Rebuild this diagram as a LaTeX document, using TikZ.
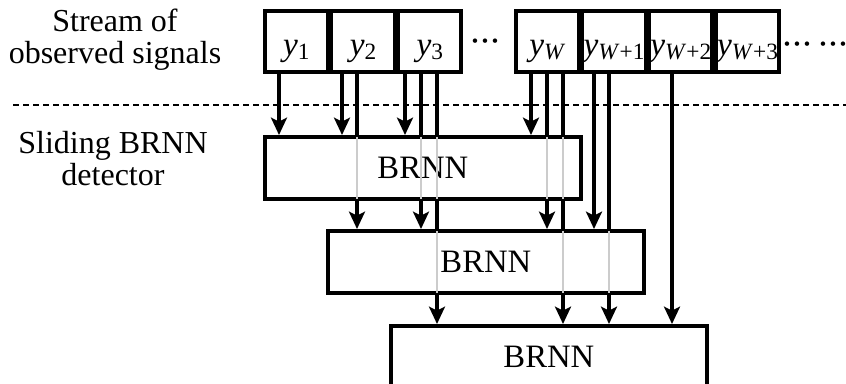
\documentclass[tikz,border=0pt]{standalone}
\usepackage{fontspec}
\setmainfont{Liberation Serif}
\usetikzlibrary{arrows.meta,calc}

% signal symbol y with a subscript
\newcommand\ysig[1]{{\fontsize{25}{25}\selectfont\itshape y}\raisebox{-3pt}{\fontsize{17.5}{17.5}\selectfont #1}}
% a run of three centred dots on a fixed pitch
\newcommand\dotrun{\makebox[0pt]{\textperiodcentered}\hspace{7.5pt}\makebox[0pt]{\textperiodcentered}\hspace{7.5pt}\makebox[0pt]{\textperiodcentered}}

\tikzset{
  sigbox/.style={draw, line width=2.8pt, fill=white, minimum width=47.25pt,
    minimum height=45.75pt, inner sep=0pt, text height=21.75pt, text depth=0pt},
  netbox/.style={draw, line width=2.8pt, fill=white, minimum width=237pt,
    minimum height=46.5pt, inner sep=0pt, font=\fontsize{24.5}{25}\selectfont},
  feed/.style={line width=2.4pt, -{Stealth[length=13pt, width=12pt, inset=3pt]}},
  behind/.style={line width=2.2pt, draw=black!20, shorten <=1.5pt, shorten >=1.5pt},
  sep/.style={line width=1.1pt, dash pattern=on 4.5pt off 3pt},
  lbl/.style={font=\fontsize{24}{24}\selectfont, align=center, inner sep=0pt},
  dots/.style={font=\fontsize{28}{28}\selectfont, inner sep=0pt, anchor=base}
}

\begin{document}
\begin{tikzpicture}[x=0.75pt, y=-0.75pt]
\useasboundingbox (0,0) rectangle (846,384);
\clip (0,0) rectangle (846,384);

% layer separator
\coordinate (sepL) at (13,105);
\coordinate (sepR) at (846,105);
\draw[sep] (sepL) -- (sepR);

% BRNN detectors, each shifted by one signal slot
\node[netbox, anchor=north west] (b1) at (263,135) {};
\node[netbox, anchor=north west] (b2) at (326,229) {};
\node[netbox, anchor=north west] (b3) at (389,324) {};

% tap points under the signal boxes
\coordinate (t11) at (279,70);
\coordinate (t21) at (342,70);
\coordinate (t22) at (357,70);
\coordinate (t31) at (405,70);
\coordinate (t32) at (421,70);
\coordinate (t33) at (437,70);
\coordinate (tW1) at (531,70);
\coordinate (tW2) at (547,70);
\coordinate (tW3) at (563,70);
\coordinate (tA2) at (594,70);
\coordinate (tA3) at (609,70);
\coordinate (tB3) at (672,70);

% feeds into the detectors
\foreach \t in {t11,t21,t31,tW1} \draw[feed] (\t) -- (\t |- b1.north);
\foreach \t in {t22,t32,tW2,tA2} \draw[feed] (\t) -- (\t |- b2.north);
\foreach \t in {t33,tW3,tA3,tB3} \draw[feed] (\t) -- (\t |- b3.north);

% redraw the detector boxes over the wires
\node[netbox, anchor=north west] (b1) at (263,135) {BRNN};
\node[netbox, anchor=north west] (b2) at (326,229) {BRNN};
\node[netbox, anchor=north west] (b3) at (389,324) {BRNN};

% wires seen through the boxes they pass
\foreach \t in {t22,t32,t33,tW2,tW3} \draw[behind] (\t |- b1.north) -- (\t |- b1.south);
\foreach \t in {t33,tW3,tA3} \draw[behind] (\t |- b2.north) -- (\t |- b2.south);

% stream of observed signals
\node[sigbox, anchor=north west] (s1) at (263,9) {\makebox[0pt]{\ysig{1}}};
\node[sigbox, anchor=west] (s2) at (s1.east) {\makebox[0pt]{\ysig{2}}};
\node[sigbox, anchor=west] (s3) at (s2.east) {\makebox[0pt]{\ysig{3}}};
\node[sigbox, anchor=north west] (sW) at (514,9) {\makebox[0pt]{\ysig{\textit{W}}}};
\node[sigbox, anchor=west] (sA) at (sW.east) {\makebox[0pt]{\ysig{\textit{W}+1}}};
\node[sigbox, anchor=west] (sB) at (sA.east) {\makebox[0pt]{\ysig{\textit{W}+2}}};
\node[sigbox, anchor=west] (sC) at (sB.east) {\makebox[0pt]{\ysig{\textit{W}+3}}};

\node[dots] (d1) at (485,54) {\dotrun};
\node[dots] (d2) at (797,57) {\dotrun};
\node[dots] (d3) at (833,57) {\dotrun};

% row captions
\node[lbl] (cap1) at (115,40) {Stream of\\observed signals};
\node[lbl] (cap2) at (113,159) {Sliding BRNN\\detector};
\end{tikzpicture}
\end{document}
